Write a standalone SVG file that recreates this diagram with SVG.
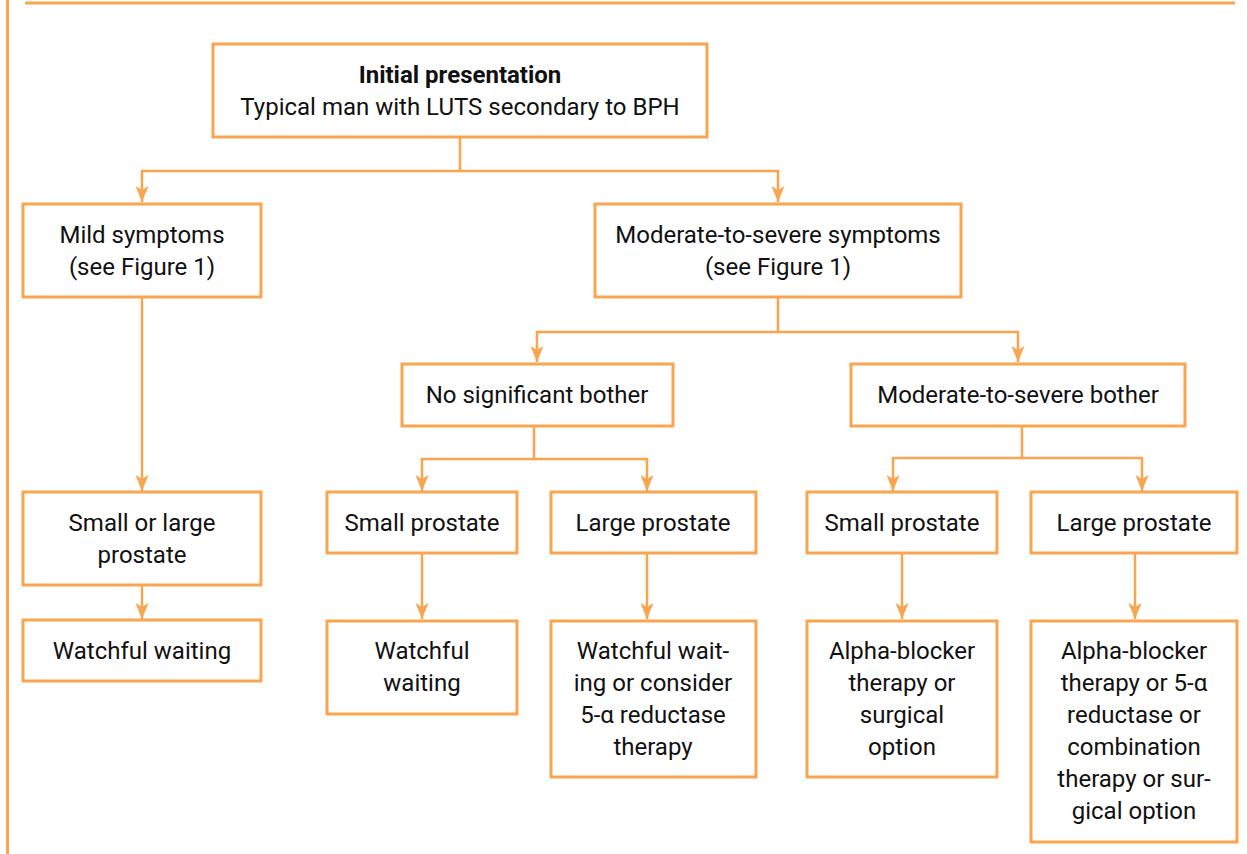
<svg xmlns="http://www.w3.org/2000/svg" width="1247" height="854" viewBox="0 0 1247 854">
  <style>
    .box { fill: #ffffff; stroke: #F9A54F; stroke-width: 3; }
    .frame { stroke: #F9A54F; stroke-width: 3; fill: none; }
    .conn { stroke: #F9A54F; stroke-width: 2.5; fill: none; }
    text { font-family: Roboto, "Liberation Sans", sans-serif; font-size: 24px; fill: #111111; text-anchor: middle; }
    .bold { font-weight: bold; }
  </style>
  <defs>
    <marker id="arrow" viewBox="0 -7 17 14" refX="16" refY="0" markerWidth="17" markerHeight="14" markerUnits="userSpaceOnUse" orient="auto">
      <path d="M0,-6.5 L16,0 L0,6.5 L4,0 Z" fill="#F9A54F"/>
    </marker>
  </defs>
  <rect width="1247" height="854" fill="#ffffff"/>

  <g id="frame">
    <line class="frame" x1="7.5" y1="0" x2="7.5" y2="854"/>
    <line class="frame" x1="25" y1="3" x2="1235" y2="3"/>
  </g>

  <g id="connectors">
    <path class="conn" d="M460,137 V171 H142 V202" marker-end="url(#arrow)"/>
    <path class="conn" d="M460,171 H778 V202" marker-end="url(#arrow)"/>
    <path class="conn" d="M142,297 V491" marker-end="url(#arrow)"/>
    <path class="conn" d="M778,297 V332 H537 V362" marker-end="url(#arrow)"/>
    <path class="conn" d="M778,332 H1018 V362" marker-end="url(#arrow)"/>
    <path class="conn" d="M534,426 V459 H422 V491" marker-end="url(#arrow)"/>
    <path class="conn" d="M534,459 H647 V491" marker-end="url(#arrow)"/>
    <path class="conn" d="M1022,426 V458 H893 V491" marker-end="url(#arrow)"/>
    <path class="conn" d="M1022,458 H1142 V491" marker-end="url(#arrow)"/>
    <path class="conn" d="M142,585 V619" marker-end="url(#arrow)"/>
    <path class="conn" d="M422,553 V619" marker-end="url(#arrow)"/>
    <path class="conn" d="M647,553 V619" marker-end="url(#arrow)"/>
    <path class="conn" d="M902,553 V619" marker-end="url(#arrow)"/>
    <path class="conn" d="M1135,553 V619" marker-end="url(#arrow)"/>
  </g>

  <g id="n-initial">
    <rect class="box" x="213" y="44" width="494" height="93"/>
    <text x="460" y="83" class="bold">Initial presentation</text>
    <text x="460" y="115">Typical man with LUTS secondary to BPH</text>
  </g>

  <g id="n-mild">
    <rect class="box" x="23" y="204" width="238" height="93"/>
    <text x="142" y="243">Mild symptoms</text>
    <text x="142" y="275">(see Figure 1)</text>
  </g>

  <g id="n-moderate">
    <rect class="box" x="595" y="204" width="366" height="93"/>
    <text x="778" y="243">Moderate-to-severe symptoms</text>
    <text x="778" y="275">(see Figure 1)</text>
  </g>

  <g id="n-nobother">
    <rect class="box" x="402" y="364" width="271" height="62"/>
    <text x="537" y="403">No significant bother</text>
  </g>

  <g id="n-modbother">
    <rect class="box" x="851" y="364" width="334" height="62"/>
    <text x="1018" y="403">Moderate-to-severe bother</text>
  </g>

  <g id="n-smalllarge">
    <rect class="box" x="23" y="492" width="238" height="93"/>
    <text x="142" y="531">Small or large</text>
    <text x="142" y="563">prostate</text>
  </g>

  <g id="n-small1">
    <rect class="box" x="327" y="492" width="190" height="61"/>
    <text x="422" y="531">Small prostate</text>
  </g>

  <g id="n-large1">
    <rect class="box" x="551" y="492" width="205" height="61"/>
    <text x="653" y="531">Large prostate</text>
  </g>

  <g id="n-small2">
    <rect class="box" x="807" y="492" width="190" height="61"/>
    <text x="902" y="531">Small prostate</text>
  </g>

  <g id="n-large2">
    <rect class="box" x="1031" y="492" width="206" height="61"/>
    <text x="1134" y="531">Large prostate</text>
  </g>

  <g id="n-ww1">
    <rect class="box" x="23" y="620" width="238" height="61"/>
    <text x="142" y="659">Watchful waiting</text>
  </g>

  <g id="n-ww2">
    <rect class="box" x="327" y="621" width="190" height="93"/>
    <text x="422" y="659">Watchful</text>
    <text x="422" y="691">waiting</text>
  </g>

  <g id="n-ww5a">
    <rect class="box" x="551" y="621" width="205" height="156"/>
    <text x="653" y="659">Watchful wait-</text>
    <text x="653" y="691">ing or consider</text>
    <text x="653" y="723">5-α reductase</text>
    <text x="653" y="755">therapy</text>
  </g>

  <g id="n-alpha">
    <rect class="box" x="807" y="621" width="190" height="156"/>
    <text x="902" y="659">Alpha-blocker</text>
    <text x="902" y="691">therapy or</text>
    <text x="902" y="723">surgical</text>
    <text x="902" y="755">option</text>
  </g>

  <g id="n-combo">
    <rect class="box" x="1031" y="621" width="206" height="221"/>
    <text x="1134" y="659">Alpha-blocker</text>
    <text x="1134" y="691">therapy or 5-α</text>
    <text x="1134" y="723">reductase or</text>
    <text x="1134" y="755">combination</text>
    <text x="1134" y="787">therapy or sur-</text>
    <text x="1134" y="819">gical option</text>
  </g>
</svg>
